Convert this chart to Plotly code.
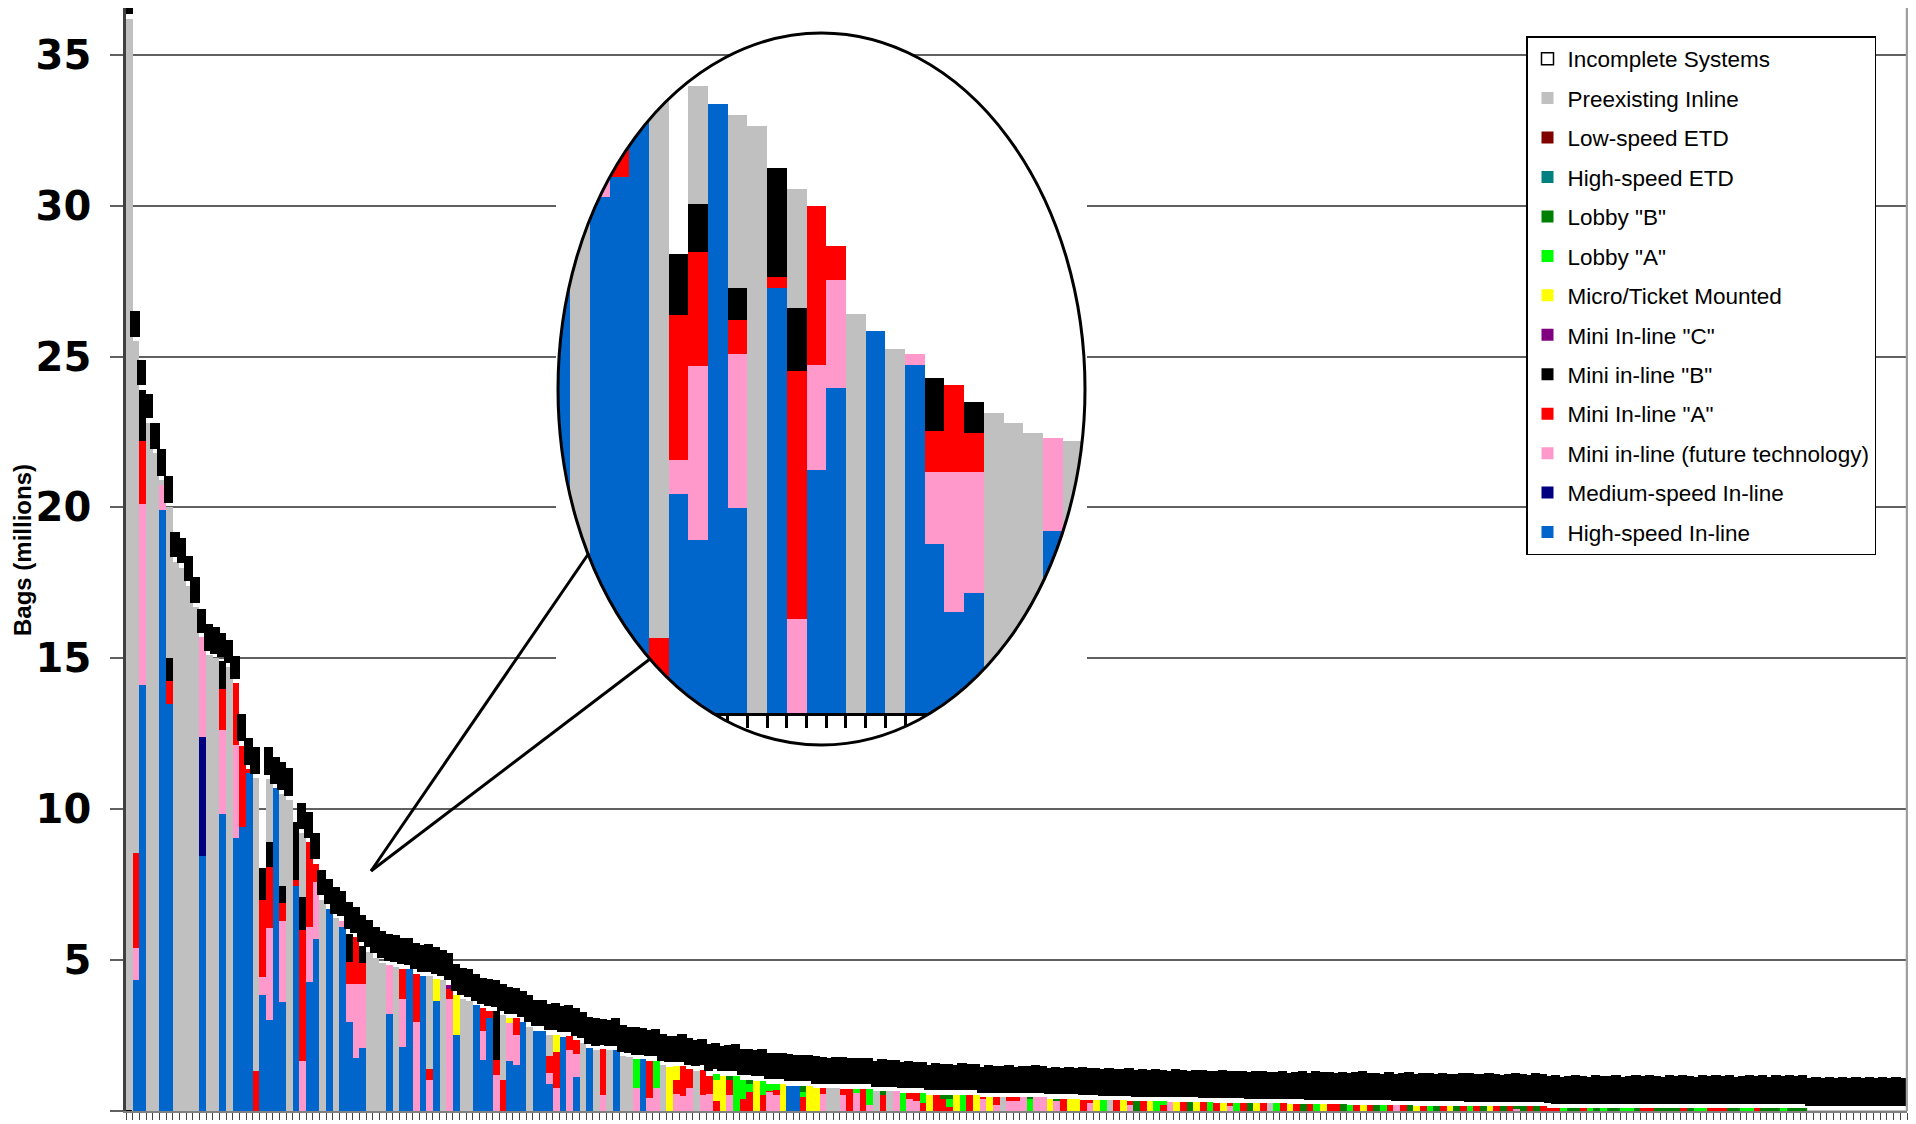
import numpy as np
import plotly.graph_objects as go

N_BARS = 267

# ---------------- data (millions of bags per airport, sorted) ----------------
HIGH_SPEED_INLINE = [
    0, 4.34, 14.1, 0, 0, 19.9, 13.5, 0, 0, 0,
    0, 8.46, 0, 0, 9.83, 0, 9.05, 9.4, 11.2, 0,
    3.84, 3.03, 10.69, 3.6, 0, 7.45, 0, 4.27, 5.7, 0,
    6.7, 0, 6.1, 2.96, 1.77, 2.1, 0, 0, 0, 3.2,
    0, 2.13, 4.69, 0, 4.47, 0, 3.64, 0, 0, 2.52,
    0, 0, 3.51, 1.69, 3.09, 0, 0, 1.66, 1.52, 2.96,
    0, 2.66, 2.66, 0.89, 0, 2.46, 0, 1.14, 0, 2.08,
    0, 0, 0, 2.02, 0, 0, 0, 1.72, 0, 0,
    0, 0, 0, 0, 0, 0, 0, 0, 0, 0,
    0, 0, 0, 0, 0, 0, 0, 0, 0, 0.83,
    0.83, 0, 0, 0, 0, 0, 0, 0, 0, 0,
    0, 0, 0, 0, 0, 0, 0, 0, 0, 0,
    0, 0, 0, 0, 0, 0, 0, 0, 0, 0,
    0, 0, 0, 0, 0, 0, 0, 0, 0, 0,
    0, 0, 0, 0, 0, 0, 0, 0, 0, 0,
    0, 0, 0, 0, 0, 0, 0, 0, 0, 0,
    0, 0, 0, 0, 0, 0, 0, 0, 0, 0,
    0, 0, 0, 0, 0, 0, 0, 0, 0, 0,
    0, 0, 0, 0, 0, 0, 0, 0, 0, 0,
    0, 0, 0, 0, 0, 0, 0, 0, 0, 0,
    0, 0, 0, 0, 0, 0, 0, 0, 0, 0,
    0, 0, 0, 0, 0, 0, 0, 0, 0, 0,
    0, 0, 0, 0, 0, 0, 0, 0, 0, 0,
    0, 0, 0, 0, 0, 0, 0, 0, 0, 0,
    0, 0, 0, 0, 0, 0, 0, 0, 0, 0,
    0, 0, 0, 0, 0, 0, 0, 0, 0, 0,
    0, 0, 0, 0, 0, 0, 0,
]

MEDIUM_SPEED_INLINE = [
    0, 0, 0, 0, 0, 0, 0, 0, 0, 0,
    0, 3.94, 0, 0, 0, 0, 0, 0, 0, 0,
    0, 0, 0, 0, 0, 0, 0, 0, 0, 0,
    0, 0, 0, 0, 0, 0, 0, 0, 0, 0,
    0, 0, 0, 0, 0, 0, 0, 0, 0, 0,
    0, 0, 0, 0, 0, 0, 0, 0, 0, 0,
    0, 0, 0, 0, 0, 0, 0, 0, 0, 0,
    0, 0, 0, 0, 0, 0, 0, 0, 0, 0,
    0, 0, 0, 0, 0, 0, 0, 0, 0, 0,
    0, 0, 0, 0, 0, 0, 0, 0, 0, 0,
    0, 0, 0, 0, 0, 0, 0, 0, 0, 0,
    0, 0, 0, 0, 0, 0, 0, 0, 0, 0,
    0, 0, 0, 0, 0, 0, 0, 0, 0, 0,
    0, 0, 0, 0, 0, 0, 0, 0, 0, 0,
    0, 0, 0, 0, 0, 0, 0, 0, 0, 0,
    0, 0, 0, 0, 0, 0, 0, 0, 0, 0,
    0, 0, 0, 0, 0, 0, 0, 0, 0, 0,
    0, 0, 0, 0, 0, 0, 0, 0, 0, 0,
    0, 0, 0, 0, 0, 0, 0, 0, 0, 0,
    0, 0, 0, 0, 0, 0, 0, 0, 0, 0,
    0, 0, 0, 0, 0, 0, 0, 0, 0, 0,
    0, 0, 0, 0, 0, 0, 0, 0, 0, 0,
    0, 0, 0, 0, 0, 0, 0, 0, 0, 0,
    0, 0, 0, 0, 0, 0, 0, 0, 0, 0,
    0, 0, 0, 0, 0, 0, 0, 0, 0, 0,
    0, 0, 0, 0, 0, 0, 0, 0, 0, 0,
    0, 0, 0, 0, 0, 0, 0,
]

MINI_FUTURE = [
    0, 1.07, 6.0, 0, 0, 0.85, 0, 0, 0, 0,
    0, 3.3, 0, 0, 2.8, 0, 3.07, 0, 0, 0,
    0.59, 3.05, 0, 2.7, 0, 0, 1.65, 1.83, 1.9, 0,
    0, 0, 0.2, 1.26, 2.45, 2.12, 0, 0, 0, 1.63,
    0, 1.58, 0, 2.96, 0, 1.03, 0, 0, 3.71, 0,
    0, 0, 0, 0.96, 0, 1.19, 0, 1.24, 1.0, 0,
    0, 0, 0, 0.36, 0.75, 0, 2.02, 0.75, 0, 0,
    0, 0.53, 0, 0, 0, 0, 0.77, 0, 0.42, 0.77,
    0, 0, 0.56, 0.5, 0.77, 0, 0.53, 0.56, 0, 0,
    0.53, 0, 0, 0, 0, 0, 0.63, 0.53, 0, 0,
    0, 0, 0, 0, 0.56, 0, 0, 0.53, 0, 0.6,
    0, 0.2, 0, 0, 0, 0.66, 0, 0.4, 0.33, 0,
    0, 0, 0, 0, 0, 0, 0, 0, 0.4, 0,
    0.2, 0, 0.33, 0.33, 0.46, 0, 0.46, 0.46, 0, 0.33,
    0, 0, 0, 0, 0.25, 0, 0, 0, 0, 0,
    0.2, 0, 0, 0, 0, 0, 0.31, 0, 0, 0,
    0, 0, 0, 0, 0, 0.15, 0, 0, 0, 0,
    0, 0, 0, 0, 0, 0, 0, 0, 0, 0,
    0, 0, 0, 0, 0, 0, 0, 0, 0, 0,
    0.19, 0, 0, 0, 0, 0, 0, 0, 0, 0,
    0, 0, 0, 0, 0, 0, 0, 0, 0.05, 0,
    0, 0, 0, 0, 0, 0, 0, 0, 0, 0,
    0, 0, 0, 0, 0, 0, 0, 0, 0, 0,
    0, 0, 0, 0, 0, 0, 0, 0, 0, 0,
    0, 0, 0, 0, 0, 0, 0, 0, 0, 0,
    0, 0, 0, 0, 0, 0, 0, 0, 0, 0,
    0, 0, 0, 0, 0, 0, 0,
]

MINI_A = [
    0, 3.15, 2.1, 0, 0, 0, 0.75, 0, 0, 0,
    0, 0, 0, 0, 1.37, 0, 2.06, 2.7, 0.12, 1.32,
    2.55, 2.0, 0, 0.6, 0, 0.2, 4.35, 2.8, 0.6, 0,
    0, 0, 0, 0.72, 1.53, 0.7, 0, 0, 0, 0,
    0, 1.01, 0, 1.58, 0, 0.36, 0, 0, 0.32, 0,
    0, 0, 0, 0.75, 0.23, 0.5, 1.03, 0, 0.55, 0,
    0, 0, 0, 0.57, 1.19, 0, 0.46, 0.46, 0, 0,
    0, 1.51, 0, 0, 0, 0, 0, 0, 1.25, 0,
    0, 0, 0.47, 0.99, 0.61, 0, 0.83, 0.6, 0.33, 0,
    0.5, 0, 0.4, 0.63, 0, 0.53, 0.03, 0.17, 0, 0,
    0, 0.46, 0, 0, 0.2, 0, 0, 0.2, 0.73, 0,
    0.73, 0, 0, 0.53, 0, 0, 0, 0.2, 0.27, 0.26,
    0, 0.53, 0.4, 0.13, 0, 0, 0.53, 0, 0.06, 0,
    0.26, 0, 0.13, 0.13, 0, 0, 0, 0, 0, 0,
    0.4, 0, 0, 0.38, 0.13, 0, 0, 0, 0.35, 0,
    0.14, 0, 0.33, 0, 0, 0.2, 0, 0, 0.3, 0,
    0, 0.29, 0, 0.28, 0, 0.13, 0, 0.27, 0, 0,
    0.26, 0, 0, 0.25, 0, 0.24, 0, 0.23, 0, 0,
    0.22, 0.22, 0, 0, 0.21, 0, 0.2, 0, 0, 0.2,
    0, 0.19, 0, 0, 0.18, 0, 0, 0.17, 0, 0,
    0.17, 0, 0.16, 0, 0, 0.16, 0, 0.15, 0, 0,
    0.15, 0, 0.15, 0.1, 0.09, 0, 0, 0, 0.09, 0,
    0, 0, 0, 0, 0, 0, 0, 0.09, 0.09, 0,
    0, 0, 0, 0.09, 0, 0, 0, 0.09, 0.09, 0.09,
    0, 0, 0, 0, 0.09, 0, 0, 0, 0, 0,
    0, 0, 0, 0, 0, 0, 0, 0, 0, 0,
    0, 0, 0, 0, 0, 0, 0,
]

MINI_B = [
    0, 0, 1.7, 0, 0, 0, 0.75, 0, 0, 0,
    0, 0, 0, 0, 0.9, 0, 0, 0, 0, 0,
    1.07, 0.85, 0, 0.55, 0, 1.92, 1.1, 0, 0, 0,
    0, 0, 0, 0.93, 0, 0.54, 0, 0, 0, 0,
    0, 0, 0, 0, 0, 0, 0, 0, 0, 0,
    0, 0, 0, 0, 0, 1.62, 0, 0, 0, 0,
    0, 0, 0, 0, 0, 0, 0, 0, 0, 0,
    0, 0, 0, 0, 0, 0, 0, 0, 0, 0,
    0, 0, 0, 0, 0, 0, 0, 0, 0, 0,
    0, 0, 0, 0, 0, 0, 0, 0, 0, 0,
    0, 0, 0, 0, 0, 0, 0, 0, 0, 0,
    0, 0, 0, 0, 0, 0, 0, 0, 0, 0,
    0, 0, 0, 0, 0, 0, 0, 0, 0, 0,
    0, 0, 0, 0, 0, 0, 0, 0, 0, 0,
    0, 0, 0, 0, 0, 0, 0, 0, 0, 0,
    0, 0, 0, 0, 0, 0, 0, 0, 0, 0,
    0, 0, 0, 0, 0, 0, 0, 0, 0, 0,
    0, 0, 0, 0, 0, 0, 0, 0, 0, 0,
    0, 0, 0, 0, 0, 0, 0, 0, 0, 0,
    0, 0, 0, 0, 0, 0, 0, 0, 0, 0,
    0, 0, 0, 0, 0, 0, 0, 0, 0, 0,
    0, 0, 0, 0, 0, 0, 0, 0, 0, 0,
    0, 0, 0, 0, 0, 0, 0, 0, 0, 0,
    0, 0, 0, 0, 0, 0, 0, 0, 0, 0,
    0, 0, 0, 0, 0, 0, 0, 0, 0, 0,
    0, 0, 0, 0, 0, 0, 0, 0, 0, 0,
    0, 0, 0, 0, 0, 0, 0,
]

MINI_C = [
    0, 0, 0, 0, 0, 0, 0, 0, 0, 0,
    0, 0, 0, 0, 0, 0, 0, 0, 0, 0,
    0, 0, 0, 0, 0, 0, 0, 0, 0, 0,
    0, 0, 0, 0, 0, 0, 0, 0, 0, 0,
    0, 0, 0, 0, 0, 0, 0, 0, 0.15, 0,
    0, 0, 0, 0, 0, 0, 0, 0, 0, 0,
    0, 0, 0, 0, 0, 0, 0, 0, 0, 0,
    0, 0, 0, 0, 0, 0, 0, 0, 0, 0,
    0, 0, 0, 0, 0, 0, 0, 0, 0, 0,
    0, 0, 0, 0, 0, 0, 0, 0, 0, 0,
    0, 0, 0, 0, 0, 0, 0, 0, 0, 0,
    0, 0, 0, 0, 0, 0, 0, 0, 0, 0,
    0, 0, 0, 0, 0, 0, 0, 0, 0, 0,
    0, 0, 0, 0, 0, 0, 0, 0, 0, 0,
    0, 0, 0, 0, 0, 0, 0, 0, 0, 0,
    0, 0, 0, 0, 0, 0, 0, 0, 0, 0,
    0, 0, 0, 0, 0, 0, 0, 0, 0, 0,
    0, 0, 0, 0, 0, 0, 0, 0, 0, 0,
    0, 0, 0, 0, 0, 0, 0, 0, 0, 0,
    0, 0, 0, 0, 0, 0, 0, 0, 0, 0,
    0, 0, 0, 0, 0, 0, 0, 0, 0, 0,
    0, 0, 0, 0, 0, 0, 0, 0, 0, 0,
    0, 0, 0, 0, 0, 0, 0, 0, 0, 0,
    0, 0, 0, 0, 0, 0, 0, 0, 0, 0,
    0, 0, 0, 0, 0, 0, 0, 0, 0, 0,
    0, 0, 0, 0, 0, 0, 0, 0, 0, 0,
    0, 0, 0, 0, 0, 0, 0,
]

MICRO_TICKET = [
    0, 0, 0, 0, 0, 0, 0, 0, 0, 0,
    0, 0, 0, 0, 0, 0, 0, 0, 0, 0,
    0, 0, 0, 0, 0, 0, 0, 0, 0, 0,
    0, 0, 0, 0, 0, 0, 0, 0, 0, 0,
    0, 0, 0, 0, 0, 0, 0.75, 0, 0, 1.32,
    0, 0, 0, 0, 0, 0, 0, 0.17, 0, 0,
    0, 0, 0, 0, 0.58, 0, 0, 0, 0, 0,
    0, 0, 0, 0, 0, 0, 0, 0, 0, 0,
    0, 1.47, 0.46, 0, 0, 0, 0, 0, 0.7, 1.16,
    0, 0, 0, 0, 1.0, 0, 0, 0, 0.9, 0,
    0, 0, 0.83, 0.76, 0, 0, 0, 0, 0, 0,
    0, 0, 0, 0, 0, 0, 0, 0, 0, 0,
    0.53, 0, 0, 0, 0.53, 0, 0, 0.53, 0, 0.46,
    0, 0, 0, 0, 0, 0, 0, 0, 0.4, 0,
    0, 0.4, 0.4, 0, 0, 0.38, 0, 0, 0, 0.35,
    0, 0, 0, 0.33, 0, 0, 0, 0.31, 0, 0,
    0.3, 0, 0, 0, 0.28, 0, 0, 0, 0, 0.26,
    0, 0, 0, 0, 0.24, 0, 0, 0, 0, 0.23,
    0, 0, 0, 0, 0, 0.21, 0, 0, 0, 0,
    0, 0, 0, 0.18, 0, 0, 0, 0, 0.17, 0,
    0, 0, 0, 0, 0.16, 0, 0, 0, 0, 0,
    0, 0, 0, 0, 0, 0, 0, 0, 0, 0,
    0, 0, 0, 0, 0, 0, 0, 0, 0, 0,
    0, 0, 0, 0, 0, 0, 0, 0, 0, 0,
    0, 0, 0, 0, 0, 0, 0, 0, 0, 0,
    0, 0, 0, 0, 0, 0, 0, 0, 0, 0,
    0, 0, 0, 0, 0, 0, 0,
]

LOBBY_A = [
    0, 0, 0, 0, 0, 0, 0, 0, 0, 0,
    0, 0, 0, 0, 0, 0, 0, 0, 0, 0,
    0, 0, 0, 0, 0, 0, 0, 0, 0, 0,
    0, 0, 0, 0, 0, 0, 0, 0, 0, 0,
    0, 0, 0, 0, 0, 0, 0, 0, 0, 0,
    0, 0, 0, 0, 0, 0, 0, 0, 0, 0,
    0, 0, 0, 0, 0, 0, 0, 0, 0, 0,
    0, 0, 0, 0, 0, 0, 0.95, 0, 0, 0.9,
    0, 0, 0, 0, 0, 0, 0, 0, 0.2, 0,
    0, 1.16, 0.63, 0.27, 0, 0.47, 0.24, 0.2, 0, 0,
    0, 0.17, 0, 0, 0, 0, 0, 0, 0, 0.13,
    0, 0.53, 0, 0, 0, 0, 0.6, 0, 0, 0.34,
    0, 0, 0, 0.27, 0, 0.53, 0, 0, 0, 0,
    0, 0, 0, 0, 0, 0.4, 0, 0, 0, 0,
    0, 0, 0, 0, 0, 0, 0.36, 0, 0, 0,
    0, 0, 0, 0, 0.32, 0.12, 0, 0, 0, 0,
    0, 0, 0.29, 0, 0, 0, 0.27, 0, 0, 0,
    0, 0, 0.25, 0, 0, 0, 0, 0, 0.23, 0,
    0, 0, 0, 0.21, 0, 0, 0, 0, 0.2, 0,
    0, 0, 0, 0, 0, 0.18, 0, 0, 0, 0,
    0, 0.16, 0, 0, 0, 0, 0, 0, 0, 0,
    0, 0, 0, 0, 0, 0.09, 0, 0, 0, 0.09,
    0, 0.09, 0, 0, 0.09, 0.09, 0, 0, 0, 0,
    0, 0, 0, 0, 0, 0.09, 0.09, 0, 0, 0,
    0, 0, 0.09, 0.09, 0, 0, 0, 0, 0.09, 0,
    0, 0, 0, 0, 0, 0, 0, 0, 0, 0,
    0, 0, 0, 0, 0, 0, 0,
]

LOBBY_B = [
    0, 0, 0, 0, 0, 0, 0, 0, 0, 0,
    0, 0, 0, 0, 0, 0, 0, 0, 0, 0,
    0, 0, 0, 0, 0, 0, 0, 0, 0, 0,
    0, 0, 0, 0, 0, 0, 0, 0, 0, 0,
    0, 0, 0, 0, 0, 0, 0, 0, 0, 0,
    0, 0, 0, 0, 0, 0, 0, 0, 0, 0,
    0, 0, 0, 0, 0, 0, 0, 0, 0, 0,
    0, 0, 0, 0, 0, 0, 0, 0, 0, 0,
    0, 0, 0, 0, 0, 0, 0, 0, 0, 0,
    0.13, 0, 0, 0.13, 0, 0, 0, 0, 0, 0,
    0, 0.2, 0, 0, 0, 0, 0, 0, 0, 0,
    0, 0, 0, 0.13, 0, 0, 0, 0, 0, 0,
    0, 0, 0.13, 0.13, 0, 0, 0, 0, 0, 0,
    0, 0, 0, 0, 0, 0.06, 0, 0, 0, 0.07,
    0, 0, 0, 0, 0, 0, 0, 0, 0, 0,
    0, 0.33, 0, 0, 0, 0, 0, 0, 0, 0.3,
    0, 0, 0, 0, 0, 0, 0, 0, 0.26, 0,
    0, 0, 0, 0, 0, 0, 0.24, 0, 0, 0,
    0, 0, 0.22, 0, 0, 0, 0, 0.2, 0, 0,
    0, 0, 0.19, 0, 0, 0, 0.18, 0, 0, 0.17,
    0, 0, 0, 0.16, 0, 0, 0.15, 0, 0.1, 0.15,
    0, 0.15, 0, 0, 0, 0, 0.09, 0.09, 0, 0,
    0.09, 0, 0.09, 0.09, 0, 0, 0.09, 0, 0, 0.09,
    0.09, 0.09, 0.09, 0, 0.09, 0, 0, 0, 0, 0,
    0.09, 0.09, 0, 0, 0, 0.09, 0.09, 0.09, 0, 0.09,
    0.09, 0.09, 0, 0, 0, 0, 0, 0, 0, 0,
    0, 0, 0, 0, 0, 0, 0,
]

HIGH_SPEED_ETD = [
    0, 0, 0, 0, 0, 0, 0, 0, 0, 0,
    0, 0, 0, 0, 0, 0, 0, 0, 0, 0,
    0, 0, 0, 0, 0, 0, 0, 0, 0, 0,
    0, 0, 0, 0, 0, 0, 0, 0, 0, 0,
    0, 0, 0, 0, 0, 0, 0, 0, 0, 0,
    0, 0, 0, 0, 0, 0, 0, 0, 0, 0,
    0, 0, 0, 0, 0, 0, 0, 0, 0, 0,
    0, 0, 0, 0, 0, 0, 0, 0, 0, 0,
    0, 0, 0, 0, 0, 0, 0, 0, 0, 0,
    0, 0, 0, 0, 0, 0, 0, 0, 0, 0,
    0, 0, 0, 0, 0, 0, 0, 0, 0, 0,
    0, 0, 0, 0, 0, 0, 0, 0, 0, 0,
    0, 0, 0, 0, 0, 0, 0, 0, 0, 0,
    0, 0, 0, 0, 0, 0, 0, 0, 0, 0,
    0, 0, 0, 0, 0, 0, 0, 0, 0, 0,
    0, 0, 0, 0, 0, 0, 0, 0, 0, 0,
    0, 0, 0, 0, 0, 0, 0, 0, 0, 0,
    0, 0, 0, 0, 0, 0, 0, 0, 0, 0,
    0, 0, 0, 0, 0, 0, 0, 0, 0, 0,
    0, 0, 0, 0, 0, 0, 0, 0, 0, 0,
    0, 0, 0, 0, 0, 0, 0, 0, 0, 0,
    0, 0, 0, 0, 0, 0, 0, 0, 0, 0,
    0, 0, 0, 0, 0, 0, 0, 0, 0, 0,
    0, 0, 0, 0, 0, 0, 0, 0, 0, 0,
    0, 0, 0, 0, 0, 0, 0, 0, 0, 0,
    0, 0, 0, 0, 0, 0, 0, 0, 0, 0,
    0, 0, 0, 0, 0, 0, 0,
]

LOW_SPEED_ETD = [
    0, 0, 0, 0, 0, 0, 0, 0, 0, 0,
    0, 0, 0, 0, 0, 0, 0, 0, 0, 0,
    0, 0, 0, 0, 0, 0, 0, 0, 0, 0,
    0, 0, 0, 0, 0, 0, 0, 0, 0, 0,
    0, 0, 0, 0, 0, 0, 0, 0, 0, 0,
    0, 0, 0, 0, 0, 0, 0, 0, 0, 0,
    0, 0, 0, 0, 0, 0, 0, 0, 0, 0,
    0, 0, 0, 0, 0, 0, 0, 0, 0, 0,
    0, 0, 0, 0, 0, 0, 0, 0, 0, 0,
    0, 0, 0, 0, 0, 0, 0, 0, 0, 0,
    0, 0, 0, 0, 0, 0, 0, 0, 0, 0,
    0, 0, 0, 0, 0, 0, 0, 0, 0, 0,
    0, 0, 0, 0, 0, 0, 0, 0, 0, 0,
    0, 0, 0, 0, 0, 0, 0, 0, 0, 0,
    0, 0, 0, 0, 0, 0, 0, 0, 0, 0,
    0, 0, 0, 0, 0, 0, 0, 0, 0, 0,
    0, 0, 0, 0, 0, 0, 0, 0, 0, 0,
    0, 0, 0, 0, 0, 0, 0, 0, 0, 0,
    0, 0, 0, 0, 0, 0, 0, 0, 0, 0,
    0, 0, 0, 0, 0, 0, 0, 0, 0, 0,
    0, 0, 0, 0, 0, 0, 0, 0, 0, 0,
    0, 0, 0, 0, 0, 0, 0, 0, 0, 0,
    0, 0, 0, 0, 0, 0, 0, 0, 0, 0,
    0, 0, 0, 0, 0, 0, 0, 0, 0, 0,
    0, 0, 0, 0, 0, 0, 0, 0, 0, 0,
    0, 0, 0, 0, 0, 0, 0, 0, 0, 0,
    0, 0, 0, 0, 0, 0, 0,
]

PREEXISTING = [
    36.2, 16.94, 0, 22.8, 21.8, 0.15, 5.0, 18.2, 18.0, 17.4,
    16.7, 0, 15.1, 15.0, 0, 14.7, 0, 0, 0, 9.7,
    0, 2.07, 0, 3.05, 10.3, 0, 2.1, 0, 0, 7.0,
    0, 6.38, 0, 0, 0, 0, 5.27, 5.08, 4.91, 0,
    4.78, 0, 0, 0, 0, 3.08, 0, 4.34, 0, 0,
    3.71, 3.64, 0, 0, 0, 0, 2.15, 0, 0, 0,
    2.8, 0, 0, 0.7, 0, 0, 0, 0, 2.26, 0,
    2.02, 0, 2.02, 0, 1.82, 1.78, 0, 0, 0, 0,
    1.52, 0, 0, 0, 0, 1.33, 0, 0, 0, 0,
    0, 0, 0, 0, 0, 0, 0, 0, 0, 0,
    0, 0, 0, 0, 0, 0.76, 0.76, 0, 0, 0,
    0, 0, 0.66, 0, 0.66, 0, 0, 0, 0, 0,
    0, 0, 0, 0, 0, 0, 0, 0, 0, 0,
    0, 0.46, 0, 0, 0, 0, 0, 0, 0, 0,
    0, 0, 0, 0, 0, 0, 0, 0.36, 0, 0,
    0, 0, 0, 0, 0, 0, 0, 0, 0, 0,
    0, 0, 0, 0, 0, 0, 0, 0, 0, 0,
    0, 0.25, 0, 0, 0, 0, 0, 0, 0, 0,
    0, 0, 0, 0, 0, 0, 0, 0, 0, 0,
    0, 0, 0, 0, 0, 0, 0, 0, 0, 0,
    0, 0, 0, 0, 0, 0, 0, 0, 0, 0,
    0, 0, 0, 0, 0, 0, 0, 0, 0, 0,
    0, 0, 0, 0, 0, 0, 0, 0, 0, 0,
    0, 0, 0, 0, 0, 0, 0, 0, 0, 0,
    0, 0, 0, 0, 0, 0, 0, 0, 0, 0,
    0, 0, 0.03, 0.03, 0.03, 0.03, 0.03, 0.03, 0.03, 0.03,
    0.03, 0.03, 0.03, 0.03, 0.03, 0.03, 0.03,
]

INCOMPLETE = [
    0.2, 0.85, 0.85, 0.8, 0.85, 0.9, 0.9, 0.85, 0.85, 0.85,
    0.85, 0.8, 0.9, 0.9, 0.8, 0.75, 0.75, 0.9, 0.9, 0.9,
    0, 0.9, 0.9, 0.9, 0.9, 0, 0.85, 0.85, 0.85, 0.85,
    0.85, 0.88, 0.85, 0.9, 0.85, 0.88, 0.9, 0.87, 0.9, 0.88,
    0.9, 0.86, 0.9, 0.88, 0.87, 0.9, 0.88, 0.86, 0.9, 0.88,
    0.87, 0.9, 0.88, 0.86, 0.9, 0.87, 0.88, 0.9, 0.86, 0.88,
    0.9, 0.87, 0.88, 0.86, 0.9, 0.88, 0.87, 0.9, 0.86, 0.88,
    0.9, 0.87, 0.86, 0.9, 0.88, 0.87, 0.9, 0.88, 0.86, 0.9,
    0.88, 0.87, 0.86, 0.9, 0.88, 0.86, 0.87, 0.9, 0.88, 0.86,
    0.87, 0.9, 0.88, 0.86, 0.87, 0.9, 0.88, 0.86, 0.87, 0.9,
    0.88, 0.86, 0.87, 0.9, 0.88, 0.86, 0.87, 0.9, 0.88, 0.86,
    0.87, 0.88, 0.86, 0.9, 0.87, 0.88, 0.86, 0.9, 0.87, 0.88,
    0.86, 0.9, 0.87, 0.88, 0.86, 0.9, 0.87, 0.88, 0.86, 0.9,
    0.87, 0.88, 0.9, 0.86, 0.88, 0.87, 0.9, 0.88, 0.86, 0.9,
    0.88, 0.9, 0.87, 0.92, 0.88, 0.9, 0.87, 0.92, 0.88, 0.9,
    0.92, 0.88, 0.9, 0.87, 0.92, 0.9, 0.88, 0.92, 0.9, 0.88,
    0.9, 0.92, 0.88, 0.9, 0.92, 0.88, 0.9, 0.92, 0.88, 0.9,
    0.92, 0.88, 0.9, 0.93, 0.88, 0.9, 0.92, 0.88, 0.93, 0.9,
    0.92, 0.88, 0.93, 0.9, 0.92, 0.95, 0.9, 0.92, 0.88, 0.93,
    0.9, 0.92, 0.95, 0.9, 0.93, 0.92, 0.9, 0.95, 0.92, 0.9,
    0.93, 0.95, 0.92, 0.9, 0.95, 0.93, 0.9, 0.92, 0.95, 0.93,
    0.9, 0.95, 0.93, 0.92, 0.95, 0.9, 0.93, 0.95, 0.92, 0.9,
    0.95, 0.93, 0.92, 0.96, 0.9, 0.93, 0.95, 0.92, 0.96, 0.93,
    0.9, 0.95, 0.92, 0.96, 0.93, 0.9, 0.95, 0.92, 0.96, 0.93,
    0.95, 0.9, 0.93, 0.96, 0.92, 0.95, 0.9, 0.96, 0.93, 0.95,
    0.92, 0.96, 0.9, 0.95, 0.93, 0.96, 0.92, 0.95, 0.9, 0.96,
    0.93, 0.95, 0.92, 0.96, 0.93, 0.95, 0.9,
]

Y_TICKS = [0, 5, 10, 15, 20, 25, 30, 35]

# bottom -> top of every stack
SERIES = [
    ("High-speed In-line", HIGH_SPEED_INLINE, "#0066CC"),
    ("Medium-speed In-line", MEDIUM_SPEED_INLINE, "#000080"),
    ("Mini in-line (future technology)", MINI_FUTURE, "#FF99CC"),
    ('Mini In-line "A"', MINI_A, "#FF0000"),
    ('Mini in-line "B"', MINI_B, "#000000"),
    ('Mini In-line "C"', MINI_C, "#800080"),
    ("Micro/Ticket Mounted", MICRO_TICKET, "#FFFF00"),
    ('Lobby "A"', LOBBY_A, "#00FF00"),
    ('Lobby "B"', LOBBY_B, "#008000"),
    ("High-speed ETD", HIGH_SPEED_ETD, "#008080"),
    ("Low-speed ETD", LOW_SPEED_ETD, "#800000"),
    ("Preexisting Inline", PREEXISTING, "#C0C0C0"),
]
for nm, vals, _ in SERIES:
    assert len(vals) == N_BARS, (nm, len(vals))
assert len(INCOMPLETE) == N_BARS

# ---------------- geometry (page pixels; page body has an 8px margin) ----------------
BODY = 8
PAGE_W, PAGE_H = 1916, 1124
PLOT_L, PLOT_R, PLOT_T, PLOT_B = 126, 1907, 8, 1111
FIG_W, FIG_H = PAGE_W - BODY, PAGE_H - BODY
ML, MT = PLOT_L - BODY, PLOT_T - BODY
MR, MB = FIG_W + BODY - PLOT_R, FIG_H + BODY - PLOT_B
PW, PH = PLOT_R - PLOT_L, PLOT_B - PLOT_T
Y_TOP = 36.55
GAP = 0.15


def px(X):
    return (X - PLOT_L) / PW


def py(Y):
    return (PLOT_B - Y) / PH


# inset (magnified view) placement
INS_L, INS_R, INS_TOP, INS_BASE = 558, 1085, 72, 713
INS_K_REF, INS_X_REF, INS_BAR_PX, INS_UNIT_PX = 20, 678.5, 19.7, 57.0


def ins_k(X):
    return INS_K_REF + (X - INS_X_REF) / INS_BAR_PX


ELL_X0, ELL_X1, ELL_Y0, ELL_Y1 = 558, 1085, 33, 745

x = np.arange(N_BARS)
fig = go.Figure()

n_series = len(SERIES)
for i, (name, vals, color) in enumerate(SERIES):
    fig.add_trace(go.Bar(
        x=x, y=vals, name=name, legendgroup=f"g{i}", legendrank=n_series + 1 - i,
        marker=dict(color=color, line=dict(width=0)),
        xaxis="x", yaxis="y",
    ))

stack_top = np.sum([np.array(v, dtype=float) for _, v, _ in SERIES], axis=0)
fig.add_trace(go.Bar(
    x=x, y=INCOMPLETE, base=stack_top + GAP, width=1.4, offset=-0.85,
    name="Incomplete Systems", legendgroup="inc", legendrank=1, showlegend=False,
    marker=dict(color="black", line=dict(width=0)),
    xaxis="x", yaxis="y",
))
# legend swatch for incomplete systems (white box with black border)
fig.add_trace(go.Bar(
    x=[0], y=[0], base=[0], name="Incomplete Systems", legendgroup="inc", legendrank=1,
    marker=dict(color="white", line=dict(color="black", width=1.5)),
    xaxis="x", yaxis="y", hoverinfo="skip",
))

# magnified inset: same data
for name, vals, color in SERIES:
    fig.add_trace(go.Bar(
        x=x, y=vals, name=name, showlegend=False, hoverinfo="skip",
        marker=dict(color=color, line=dict(width=0)),
        xaxis="x2", yaxis="y2",
    ))

# mask: white rectangle with an elliptical hole
t = np.linspace(0, 2 * np.pi, 240, endpoint=False)
cx, cy = (ELL_X0 + ELL_X1) / 2, (ELL_Y0 + ELL_Y1) / 2
rx, ry = (ELL_X1 - ELL_X0) / 2, (ELL_Y1 - ELL_Y0) / 2
ex = cx + rx * np.cos(t)
ey = cy + ry * np.sin(t)
ell_path = "M" + " L".join(f"{px(a):.5f},{py(b):.5f}" for a, b in zip(ex, ey)) + " Z"
rL, rR, rT, rB = 556, 1087, INS_TOP, 752
rect_path = (f"M{px(rL):.5f},{py(rT):.5f} L{px(rR):.5f},{py(rT):.5f} "
             f"L{px(rR):.5f},{py(rB):.5f} L{px(rL):.5f},{py(rB):.5f} Z")

TIP = (371, 871)
shapes = [
    dict(type="rect", xref="x2", yref="y2", x0=ins_k(INS_L), x1=ins_k(INS_R),
         y0=0, y1=(INS_BASE - INS_TOP) / INS_UNIT_PX,
         fillcolor="white", line=dict(width=0), layer="below"),
    dict(type="path", xref="paper", yref="paper", path=rect_path + " " + ell_path,
         fillcolor="white", line=dict(width=0), layer="above", fillrule="evenodd"),
    dict(type="circle", xref="paper", yref="paper",
         x0=px(ELL_X0), x1=px(ELL_X1), y0=py(ELL_Y1), y1=py(ELL_Y0),
         line=dict(color="black", width=3), fillcolor="rgba(0,0,0,0)", layer="above"),
    dict(type="line", xref="paper", yref="paper", x0=px(TIP[0]), y0=py(TIP[1]),
         x1=px(589), y1=py(553), line=dict(color="black", width=3), layer="above"),
    dict(type="line", xref="paper", yref="paper", x0=px(TIP[0]), y0=py(TIP[1]),
         x1=px(650), y1=py(659), line=dict(color="black", width=3), layer="above"),
    dict(type="line", xref="paper", yref="paper", x0=1, x1=1, y0=0, y1=1,
         line=dict(color="#a0a0a0", width=2.5), layer="above"),
]

annotations = [
    dict(text="Bags (millions)", xref="paper", yref="paper",
         x=px(22), y=py(550), xanchor="center", yanchor="middle",
         textangle=-90, showarrow=False,
         font=dict(size=24, weight="bold", family="Liberation Sans, Arial, sans-serif",
                   color="black")),
]

fig.update_layout(
    width=FIG_W, height=FIG_H, autosize=False,
    margin=dict(l=ML, r=MR, t=MT, b=MB, pad=0, autoexpand=False),
    paper_bgcolor="white", plot_bgcolor="white",
    barmode="stack", bargap=0,
    font=dict(family="Liberation Sans, Arial, sans-serif", color="black"),
    showlegend=True,
    legend=dict(
        x=px(1526), y=py(36), xanchor="left", yanchor="top",
        bgcolor="white", bordercolor="black", borderwidth=1.5,
        font=dict(size=22.5, family="Liberation Sans, Arial, sans-serif", color="black"),
        traceorder="grouped", tracegroupgap=7.2,
    ),
    xaxis=dict(
        range=[-0.5, N_BARS - 0.5], tickmode="linear", tick0=-0.5, dtick=1,
        ticks="outside", ticklen=7, tickwidth=1, tickcolor="#444444",
        showticklabels=False, showgrid=False, zeroline=False, automargin=False,
        showline=True, linecolor="#808080", linewidth=2,
    ),
    yaxis=dict(
        range=[0, Y_TOP], tickmode="array", tickvals=Y_TICKS,
        ticks="outside", ticklen=13, tickwidth=2, tickcolor="#606060",
        showgrid=True, gridcolor="#606060", gridwidth=1.6, zeroline=False,
        showline=True, linecolor="#404040", linewidth=2.5, automargin=False,
        tickfont=dict(family="DejaVu Sans", size=40, weight="bold", color="black"),
        ticklabelstandoff=11,
    ),
    xaxis2=dict(
        domain=[px(INS_L), px(INS_R)], range=[ins_k(INS_L), ins_k(INS_R)],
        anchor="y2", tickmode="linear", tick0=-0.5, dtick=1,
        ticks="outside", ticklen=12, tickwidth=3, tickcolor="black",
        showticklabels=False, showgrid=False, zeroline=False, automargin=False,
        showline=True, linecolor="black", linewidth=3,
    ),
    yaxis2=dict(
        domain=[py(INS_BASE), py(INS_TOP)],
        range=[0, (INS_BASE - INS_TOP) / INS_UNIT_PX],
        anchor="x2", visible=False,
    ),
    shapes=shapes,
    annotations=annotations,
)

fig.write_html("out.html")
